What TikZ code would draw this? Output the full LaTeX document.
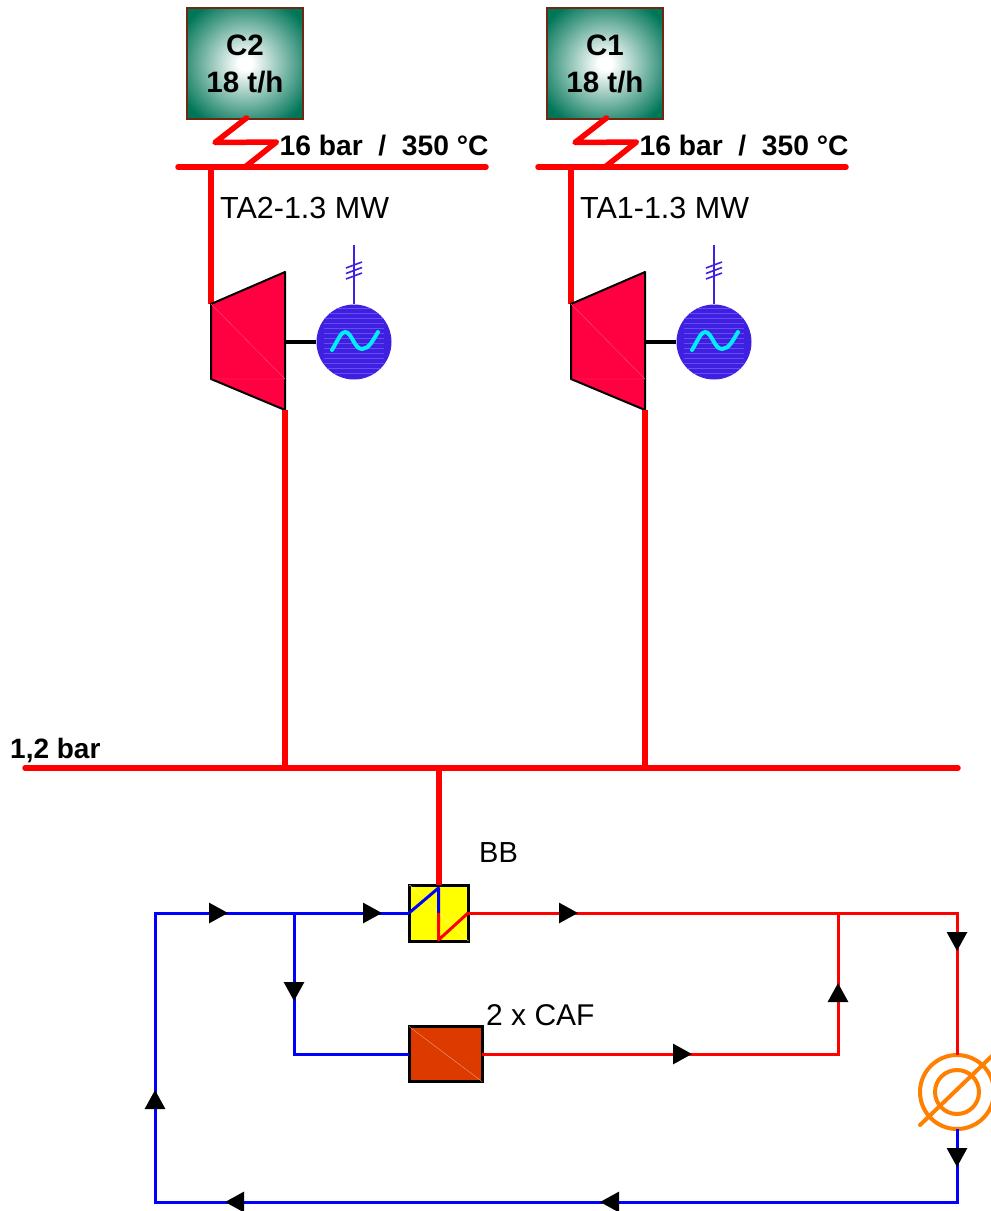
\documentclass[tikz,border=0pt]{standalone}
\usepackage{fontspec}
\setmainfont{Liberation Sans}
\usetikzlibrary{positioning, arrows.meta, calc}

\definecolor{steamred}{RGB}{255,0,0}
\definecolor{waterblue}{RGB}{0,0,255}
\definecolor{turbred}{RGB}{255,0,64}
\definecolor{genblue}{RGB}{64,32,224}
\definecolor{genstreak}{RGB}{100,76,248}
\definecolor{wavecyan}{RGB}{0,238,255}
\definecolor{boilergreen}{RGB}{0,118,88}
\definecolor{boilerline}{RGB}{110,40,20}
\definecolor{bbyellow}{RGB}{255,255,0}
\definecolor{cafred}{RGB}{221,58,0}
\definecolor{ringorange}{RGB}{255,128,0}

\pgfdeclareradialshading{boilerglow}{\pgfpointorigin}{
	color(0bp)=(white); color(3bp)=(white); color(31bp)=(boilergreen); color(50bp)=(boilergreen)}

\begin{document}
\begin{tikzpicture}[x=1pt, y=-1pt,
	font=\fontsize{29}{37}\selectfont,
	boiler/.style={draw=boilerline, line width=1.5pt, shading=boilerglow, minimum width=116pt, minimum height=111pt, align=center, inner sep=0pt, font=\fontsize{29.5}{37}\selectfont\bfseries},
	generator/.style={circle, fill=genblue, minimum size=75pt, inner sep=0pt,
		path picture={\foreach \k in {-34,-29,...,34} {\draw[genstreak, line width=0.8pt] ($(path picture bounding box.center)+(-30,\k)$) -- ++(60,0);}}},
	hex/.style={draw=black, line width=3pt, inner sep=0pt, outer sep=0pt},
	label text/.style={anchor=base west, inner sep=0pt},
	steam/.style={steamred, line width=5.5pt, line cap=round, line join=round},
	hot/.style={steamred, line width=3pt, line join=miter},
	cold/.style={waterblue, line width=3pt, line join=miter},
	flow/.style={-{Triangle[color=black, fill=black, length=19pt, width=20pt]}}]

	\clip (0,0) rectangle (991,1211);

	% Caldaie e turbine
	\foreach \i/\dx in {2/0, 1/360} {
		\begin{scope}[xshift=\dx pt]
			\node[boiler] (boiler\i) at (245,63.5) {C\i\\18 t/h};
			\coordinate (hdrL\i) at (178,167);
			\coordinate (hdrR\i) at (486,167);
			\coordinate (inlet\i) at (211,304);
			\coordinate (outlet\i) at (285,410);
			\draw[steam] (hdrL\i) -- (hdrR\i);
			\draw[steam] (246.5,118) -- (215,142.5) -- (276.5,142) -- (245,167);
			\node[label text, font=\fontsize{28.2}{34}\selectfont\bfseries] (press\i) at (279.5,155.5) {16 bar\ \ /\ \ 350 °C};
			\node[label text, font=\fontsize{30.5}{37}\selectfont] (name\i) at (220,218) {TA\i-1.3 MW};
			\draw[steam, line cap=butt] (hdrL\i -| inlet\i) -- (inlet\i);

			% turbina
			\filldraw[fill=turbred, draw=black, line width=2pt, line join=round]
				(inlet\i) -- (285,272) -- (outlet\i) -- (211,379) -- cycle;
			\draw[turbred!70!white, line width=0.4pt] (inlet\i) -- (285,379) (211,379) -- (285,379);
			\node[generator] (gen\i) at (354,342) {};
			\draw[black, line width=3.5pt] (285,342) -- (gen\i.west);
			\draw[wavecyan, line width=4pt, line cap=round] (332,350) .. controls (338,340) and (341,332) .. (345,332)
				.. controls (352,332) and (354,349) .. (362,349) .. controls (369,349) and (373,340) .. (378,332);

			% linea di uscita verso il generatore
			\coordinate (gridtop\i) at (354,245);
			\draw[genblue, line width=1.6pt] (gen\i.north) -- (gridtop\i);
			\foreach \y in {265,270.5,276} {\draw[genblue, line width=1.6pt] (346,\y+3) -- (362,\y-3);}
		\end{scope}
	}

	% Collettore a bassa pressione
	\coordinate (busL) at (25,768);
	\coordinate (busR) at (958,768);
	\draw[steam] (busL) -- (busR);
	\node[label text, font=\fontsize{28}{34}\selectfont\bfseries] (busname) at (10,758) {1,2 bar};
	\draw[steam, line width=6pt, line cap=butt] (outlet2) -- (outlet2 |- busL);
	\draw[steam, line width=6pt, line cap=butt] (outlet1) -- (outlet1 |- busL);

	% Scambiatori
	\node[hex, fill=bbyellow, minimum width=59pt, minimum height=56pt] (bb) at (439,913) {};
	\draw[bbyellow!40!white, line width=0.4pt] (bb.north west) -- (bb.south east);
	\node[anchor=base west, inner sep=0pt] (bbname) at (479,862) {BB};
	\node[hex, fill=cafred, minimum width=73pt, minimum height=55pt] (caf) at (445.5,1054) {};
	\draw[cafred!50!white, line width=0.4pt] (caf.north west) -- (caf.south east);
	\node[anchor=base west, inner sep=0pt, font=\fontsize{30}{37}\selectfont] (cafname) at (486,1025) {2 x CAF};
	\draw[steam, line width=6pt, line cap=butt] (busL -| bb) -- (bb.north);

	% Utenza
	\node[circle, draw=ringorange, line width=4pt, minimum size=74pt, inner sep=0pt, outer sep=0pt] (load) at (957,1092) {};
	\node[circle, draw=ringorange, line width=4pt, minimum size=44pt, inner sep=0pt] (loadin) at (load.center) {};
	\draw[ringorange, line width=4pt, line cap=round] (920,1125) -- (995,1053);

	% Punti del circuito
	\coordinate (cornerTL) at (155,913);
	\coordinate (cornerBL) at (155,1202);
	\coordinate (cornerBR) at (957,1202);
	\coordinate (cornerTR) at (957,913);
	\coordinate (split) at (294,913);
	\coordinate (splitB) at (294,1054);
	\coordinate (mix) at (838,913);
	\coordinate (mixB) at (838,1054);
	\coordinate (bbin) at (409,913);
	\coordinate (bbout) at (468,913);
	\coordinate (bbtop) at (438.5,888);
	\coordinate (bbmid) at (438.5,913);
	\coordinate (bbbot) at (438.5,940);

	% Interno BB
	\draw[cold, line join=round] (bbin) -- (bbtop) -- (bbmid);
	\draw[hot, line join=round] (bbmid) -- (bbbot) -- (bbout);

	% Circuito freddo
	\draw[cold] (load.south) -- (cornerBR) -- (cornerBL) -- (cornerTL) -- (bbin);
	\draw[cold] (split) -- (splitB) -- (caf.west);

	% Circuito caldo
	\draw[hot] (bbout) -- (cornerTR) -- (load.north);
	\draw[hot] (caf.east) -- (mixB) -- (mix);

	% Frecce
	\draw[cold, flow] (155,1115) -- (155,1090);
	\draw[cold, flow] (200,913) -- (228,913);
	\draw[cold, flow] (355,913) -- (382,913);
	\draw[cold, flow] (294,975) -- (294,1001);
	\draw[cold, flow] (957,1140) -- (957,1167);
	\draw[cold, flow] (630,1202) -- (600,1202);
	\draw[cold, flow] (255,1202) -- (225,1202);
	\draw[hot, flow] (550,913) -- (578,913);
	\draw[hot, flow] (957,925) -- (957,951);
	\draw[hot, flow] (665,1054) -- (692,1054);
	\draw[hot, flow] (838,1010) -- (838,983);
\end{tikzpicture}
\end{document}
